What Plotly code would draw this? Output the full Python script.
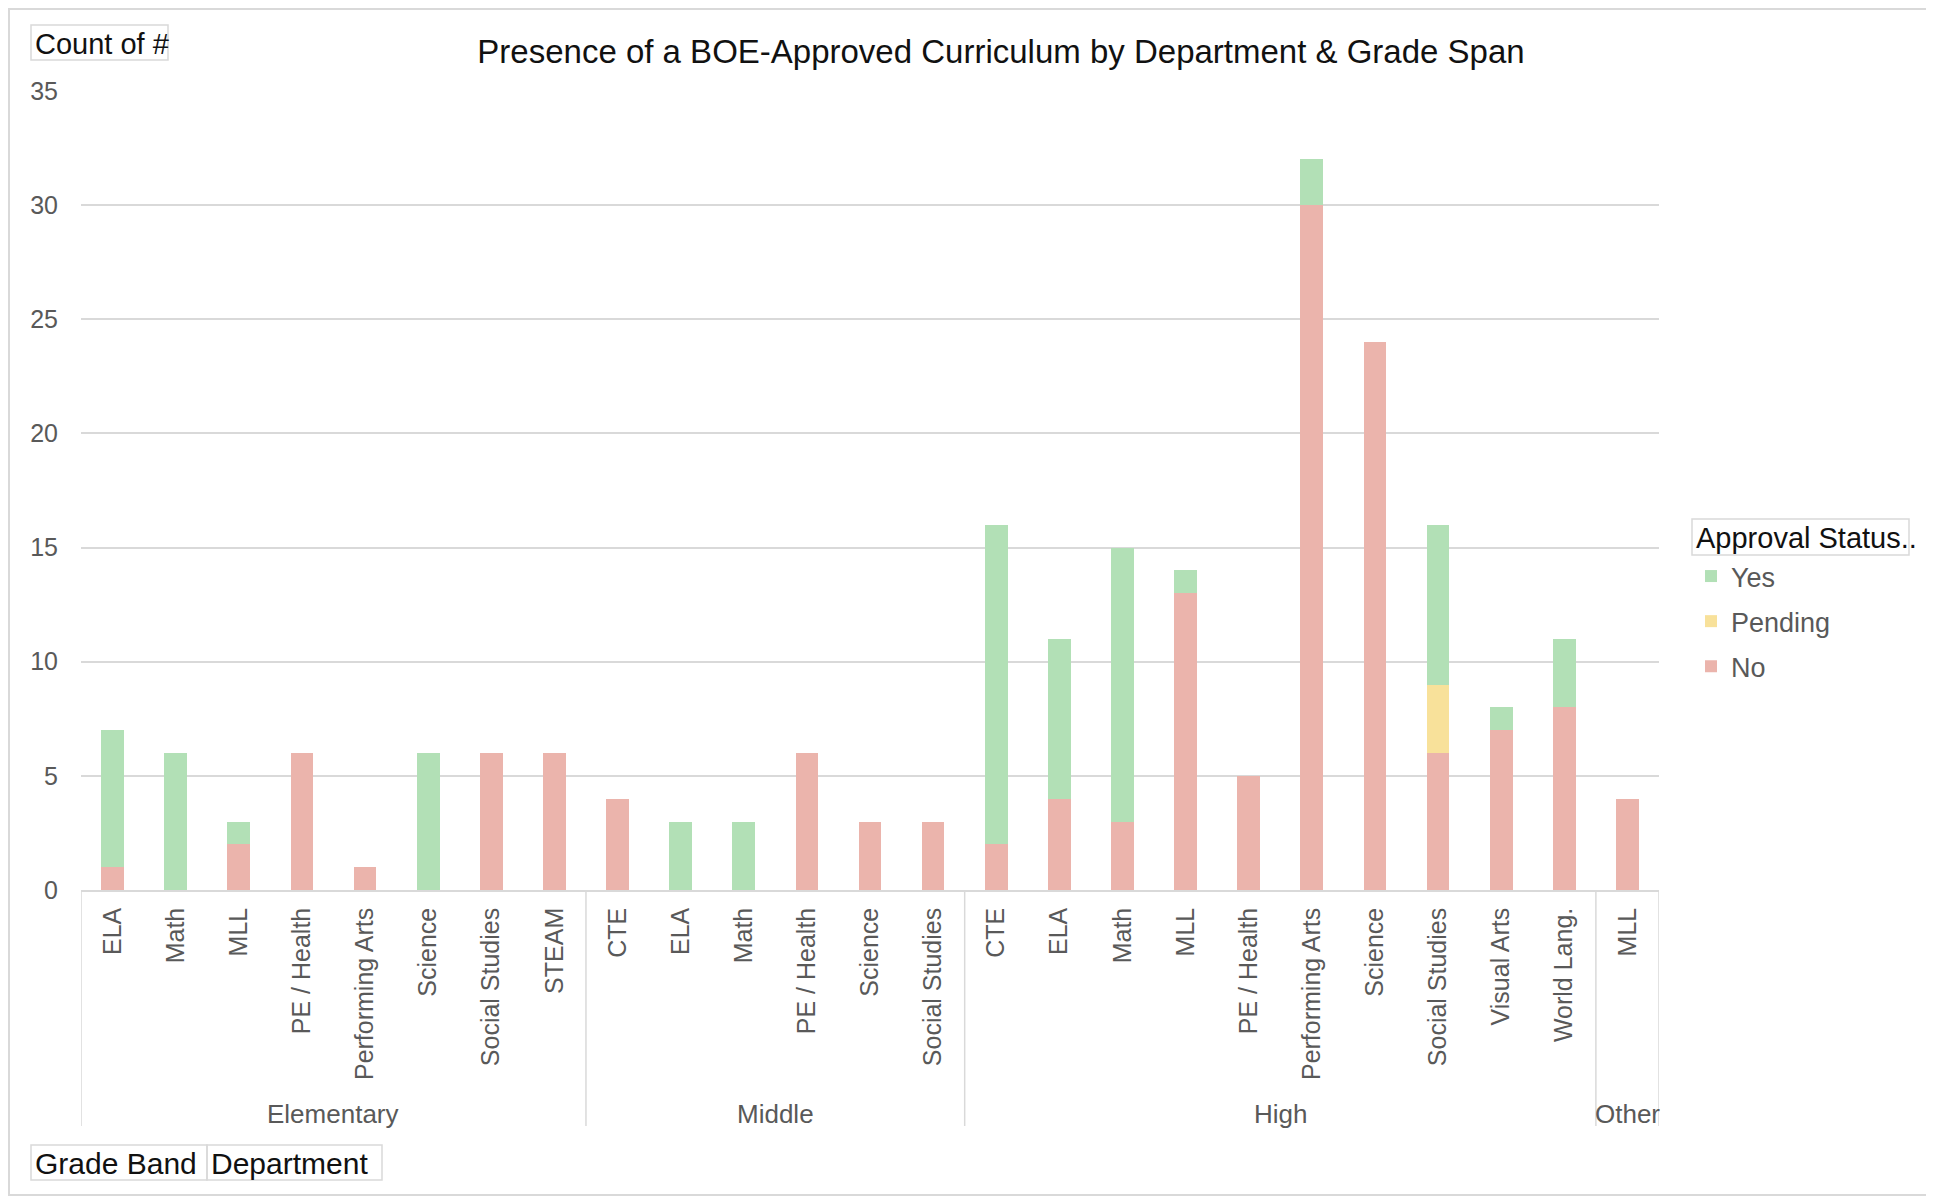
import plotly.graph_objects as go

# categories (grade band / department)
grade_bands = ["Elementary", "Middle", "High", "Other"]
departments = [
    ["ELA", "Math", "MLL", "PE / Health", "Performing Arts", "Science", "Social Studies", "STEAM"],
    ["CTE", "ELA", "Math", "PE / Health", "Science", "Social Studies"],
    ["CTE", "ELA", "Math", "MLL", "PE / Health", "Performing Arts", "Science", "Social Studies",
     "Visual Arts", "World Lang."],
    ["MLL"],
]

# counts per approval status, same order as the departments above
no_counts = [1, 0, 2, 6, 1, 0, 6, 6,
             4, 0, 0, 6, 3, 3,
             2, 4, 3, 13, 5, 30, 24, 6, 7, 8,
             4]
pending_counts = [0, 0, 0, 0, 0, 0, 0, 0,
                  0, 0, 0, 0, 0, 0,
                  0, 0, 0, 0, 0, 0, 0, 3, 0, 0,
                  0]
yes_counts = [6, 6, 1, 0, 0, 6, 0, 0,
              0, 3, 3, 0, 0, 0,
              14, 7, 12, 1, 0, 2, 0, 7, 1, 3,
              0]

y_ticks = [0, 5, 10, 15, 20, 25, 30, 35]

labels = [d for grp in departments for d in grp]
xpos = list(range(len(labels)))

# page body has an 8px margin, so target positions are shifted by it
OFF = 8
W, H = 1934, 1196
L, T = 81 - OFF, 91 - OFF
R = W - (1659 - OFF)
B = H - (890 - OFF)
pw, ph = W - L - R, H - T - B


def px_x(p):
    return (p - OFF - L) / pw


def px_y(p):
    return (H - B - (p - OFF)) / ph


FONT = "Liberation Sans, Arial, sans-serif"
GRAY = "#595959"
LINE = "#D9D9D9"

fig = go.Figure()
series = [("No", no_counts, "#EBB4AC", 3), ("Pending", pending_counts, "#F8E19A", 2),
          ("Yes", yes_counts, "#B2E0B6", 1)]
for name, vals, col, rank in series:
    fig.add_trace(go.Bar(x=xpos, y=vals, name=name, marker=dict(color=col, line=dict(width=0)),
                         legendgroup=name, legendrank=rank))

# group dividers and group labels
edges = [-0.5]
for grp in departments:
    edges.append(edges[-1] + len(grp))
for e in edges:
    fig.add_shape(type="line", xref="x", yref="paper", x0=e, x1=e, y0=0, y1=px_y(1126),
                  line=dict(color=LINE, width=1.5))
for i, g in enumerate(grade_bands):
    fig.add_annotation(x=(edges[i] + edges[i + 1]) / 2, y=px_y(1114), xref="x", yref="paper",
                       text=g, showarrow=False, yanchor="middle",
                       font=dict(size=26, color=GRAY, family=FONT))

# outer chart border
fig.add_shape(type="rect", xref="paper", yref="paper", x0=(1 - L) / pw, x1=(1921 - L) / pw,
              y0=(H - B - 1187) / ph, y1=(H - B - 1) / ph, line=dict(color=LINE, width=2))


# field buttons: grey box with the label starting at its left edge
def field_box(text, x0, x1, y0, y1, size=30):
    fig.add_shape(type="rect", xref="paper", yref="paper", x0=px_x(x0), x1=px_x(x1),
                  y0=px_y(y1), y1=px_y(y0), line=dict(color=LINE, width=1.5))
    fig.add_annotation(x=px_x(x0 + 2), y=px_y((y0 + y1) / 2 + 1), xref="paper", yref="paper",
                       text=text, showarrow=False, xanchor="left", yanchor="middle",
                       font=dict(size=size, color="#111111", family=FONT))


field_box("Count of #", 31, 168, 25, 60, size=29)
field_box("Grade Band", 31, 207, 1145, 1180)
field_box("Department", 207, 382, 1145, 1180)
field_box("Approval Status..", 1692, 1909, 519, 555, size=29)

fig.update_layout(
    width=W, height=H,
    margin=dict(l=L, r=R, t=T, b=B),
    paper_bgcolor="white", plot_bgcolor="white",
    barmode="stack", bargap=0.64,
    font=dict(family=FONT, color=GRAY),
    title=dict(text="Presence of a BOE-Approved Curriculum by Department & Grade Span",
               x=(1001 - OFF) / W, y=1 - (51 - OFF) / H, xanchor="center", yanchor="middle",
               font=dict(size=33, color="#111111", family=FONT)),
    xaxis=dict(range=[-0.5, len(labels) - 0.5], tickmode="array", tickvals=xpos, ticktext=labels,
               tickangle=-90, showgrid=False, showline=True, linecolor=LINE, linewidth=1.5,
               ticks="", ticklabelstandoff=6, tickfont=dict(size=25, color=GRAY, family=FONT),
               zeroline=False),
    yaxis=dict(range=[0, 35], tickvals=y_ticks, showgrid=True, gridcolor=LINE, gridwidth=1.5,
               zeroline=False, showline=False, ticks="", ticklabelstandoff=22,
               tickfont=dict(size=25, color=GRAY, family=FONT)),
    legend=dict(x=px_x(1691), y=px_y(552), xanchor="left", yanchor="top",
                traceorder="grouped", tracegroupgap=7, itemwidth=30,
                font=dict(size=27, color=GRAY, family=FONT), bgcolor="rgba(0,0,0,0)"),
    showlegend=True,
)

fig.write_html("out.html")
